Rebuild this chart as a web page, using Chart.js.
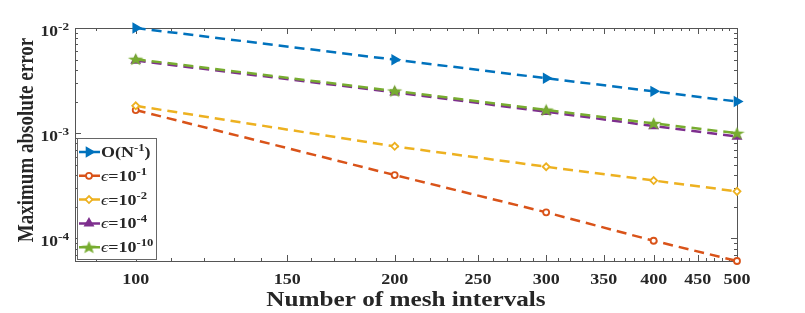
<!DOCTYPE html>
<html>
<head>
<meta charset="utf-8">
<script src="https://cdn.jsdelivr.net/npm/chart.js@4/dist/chart.umd.min.js"></script>
<style>
  html, body { margin: 0; padding: 0; background: #fff; }
  #wrap { width: 805px; height: 313px; }
</style>
</head>
<body>
<div id="wrap"><canvas id="errChart"></canvas></div>
<script>
const meshN = [100, 200, 300, 400, 500];
const refOrder = [1.0e-2, 5.0e-3, 3.33e-3, 2.5e-3, 2.0e-3];
const errEps1 = [1.66e-3, 4.0e-4, 1.77e-4, 9.5e-5, 6.1e-5];
const errEps2 = [1.82e-3, 7.5e-4, 4.8e-4, 3.55e-4, 2.8e-4];
const errEps4 = [4.9e-3, 2.45e-3, 1.6e-3, 1.17e-3, 9.3e-4];
const errEps10 = [5.05e-3, 2.52e-3, 1.66e-3, 1.24e-3, 1.0e-3];

const xTickLabels = [100, 150, 200, 250, 300, 350, 400, 450, 500];
const yTickValues = [1e-4, 1e-3, 1e-2];
const yTickExps = ["-4", "-3", "-2"];

const legendBase = ["O(N", "=10", "=10", "=10", "=10"];
const legendSup = ["-1", "-1", "-2", "-4", "-10"];

const SERIF = '"Liberation Serif", "Times New Roman", serif';
const TXT = "#262626";
const SX = 1.2; // the figure was exported a bit wider than tall, text looks stretched

// filled five point star for the last series
function makeStar(color) {
  const c = document.createElement("canvas");
  c.width = 17; c.height = 15;
  const g = c.getContext("2d");
  g.beginPath();
  for (let i = 0; i < 10; i++) {
    const r = i % 2 === 0 ? 6.8 : 2.8;
    const a = -Math.PI / 2 + i * Math.PI / 5;
    g.lineTo(8.5 + 1.2 * r * Math.cos(a), 8 + r * Math.sin(a));
  }
  g.closePath();
  g.fillStyle = color;
  g.fill();
  return c;
}
const starImg = makeStar("#77AC30");

const pts = (ys) => meshN.map((n, i) => ({ x: n, y: ys[i] }));

const series = [
  { label: "O(N^-1)", data: pts(refOrder), color: "#0072BD", style: "triangle", rot: 90, r: 4.8, fill: "#0072BD" },
  { label: "eps=1e-1", data: pts(errEps1), color: "#D95319", style: "circle", rot: 0, r: 3, fill: "#fff" },
  { label: "eps=1e-2", data: pts(errEps2), color: "#EDB120", style: "rectRot", rot: 0, r: 3.5, fill: "#fff" },
  { label: "eps=1e-4", data: pts(errEps4), color: "#7E2F8E", style: "triangle", rot: 0, r: 4.5, fill: "#7E2F8E" },
  { label: "eps=1e-10", data: pts(errEps10), color: "#77AC30", style: starImg, rot: 0, r: 7, fill: "#77AC30" },
];

// text pieces: [text, font, dy]; drawn with a horizontal stretch
function partsWidth(ctx, parts) {
  let w = 0;
  parts.forEach(([t, font]) => { ctx.font = font; w += ctx.measureText(t).width; });
  return w * SX;
}
function drawParts(ctx, x, y, parts, align) {
  const w = partsWidth(ctx, parts);
  let sx = align === "right" ? x - w : align === "center" ? x - w / 2 : x;
  ctx.save();
  ctx.translate(sx, y);
  ctx.scale(SX, 1);
  ctx.textAlign = "left";
  ctx.textBaseline = "alphabetic";
  let cx = 0;
  parts.forEach(([t, font, dy]) => {
    ctx.font = font;
    ctx.fillText(t, cx, dy);
    cx += ctx.measureText(t).width;
  });
  ctx.restore();
}

const framePlugin = {
  id: "frame",
  beforeDatasetsDraw(chart) {
    const { ctx, chartArea: a, scales: { x, y } } = chart;
    ctx.save();
    ctx.strokeStyle = "#555";
    ctx.lineWidth = 1;
    ctx.strokeRect(a.left + 0.5, a.top + 0.5, a.right - a.left, a.bottom - a.top);
    ctx.beginPath();
    for (let v = 90; v <= 500; v += 10) {
      if (v < x.min) continue;
      const len = xTickLabels.includes(v) ? 6 : 3;
      const px = Math.round(x.getPixelForValue(v)) + 0.5;
      ctx.moveTo(px, a.bottom); ctx.lineTo(px, a.bottom - len);
      ctx.moveTo(px, a.top); ctx.lineTo(px, a.top + len);
    }
    for (let e = -5; e <= -2; e++) {
      for (let m = 1; m <= 9; m++) {
        const v = m * Math.pow(10, e);
        if (v < y.min * 0.999 || v > y.max * 1.001) continue;
        const len = m === 1 ? 6 : 3;
        const py = Math.round(y.getPixelForValue(v)) + 0.5;
        ctx.moveTo(a.left, py); ctx.lineTo(a.left + len, py);
        ctx.moveTo(a.right, py); ctx.lineTo(a.right - len, py);
      }
    }
    ctx.stroke();
    ctx.restore();
  },
  afterDraw(chart) {
    const { ctx, chartArea: a, scales: { x, y } } = chart;
    ctx.save();
    ctx.fillStyle = TXT;

    // tick labels
    const tickFont = "bold 15px " + SERIF;
    xTickLabels.forEach((v) => {
      drawParts(ctx, x.getPixelForValue(v), 284, [[String(v), tickFont, 0]], "center");
    });
    const yFont = "bold 14.5px " + SERIF;
    const supFont = "bold 11px " + SERIF;
    yTickValues.forEach((v, i) => {
      const py = y.getPixelForValue(v);
      drawParts(ctx, 69, py + 8, [["10", yFont, 0], [yTickExps[i], supFont, -6]], "right");
    });

    // axis titles
    const titleFont = "bold 21px " + SERIF;
    drawParts(ctx, (a.left + a.right) / 2, 306, [["Number of mesh intervals", titleFont, 0]], "center");
    ctx.save();
    ctx.translate(33, 140);
    ctx.scale(SX, 1);
    ctx.rotate(-Math.PI / 2);
    ctx.font = "bold 19px " + SERIF;
    ctx.textAlign = "center";
    ctx.textBaseline = "alphabetic";
    ctx.fillText("Maximum absolute error", 0, 0);
    ctx.restore();

    // legend box in the lower left corner
    const lx = 77, ly = 138, lw = 79, lh = 121;
    ctx.fillStyle = "#fff";
    ctx.fillRect(lx, ly, lw, lh);
    ctx.strokeStyle = "#666";
    ctx.lineWidth = 1;
    ctx.strokeRect(lx + 0.5, ly + 0.5, lw, lh);
    const bFont = "bold 15px " + SERIF;
    const sFont = "bold 10.5px " + SERIF;
    const iFont = "italic 15px " + SERIF;
    series.forEach((s, i) => {
      const cy = ly + 14 + i * 23.8;
      ctx.save();
      ctx.strokeStyle = s.color;
      ctx.lineWidth = 2.5;
      ctx.setLineDash([8, 5]);
      ctx.beginPath();
      ctx.moveTo(lx + 2, cy); ctx.lineTo(lx + 24, cy);
      ctx.stroke();
      ctx.setLineDash([]);
      ctx.fillStyle = s.fill;
      ctx.lineWidth = 1.8;
      Chart.helpers.drawPoint(ctx, { pointStyle: s.style, rotation: s.rot, radius: s.r, borderWidth: 1.8 }, lx + 12, cy);
      ctx.restore();
      ctx.fillStyle = TXT;
      const parts = i === 0
        ? [[legendBase[i], bFont, 0], [legendSup[i], sFont, -6], [")", bFont, 0]]
        : [["\u03f5", iFont, 0], [legendBase[i], bFont, 0], [legendSup[i], sFont, -6]];
      drawParts(ctx, lx + 24, cy + 5, parts, "left");
    });
    ctx.restore();
  },
};

new Chart(document.getElementById("errChart"), {
  type: "line",
  data: {
    datasets: series.map((s, i) => ({
      label: s.label,
      data: s.data,
      borderColor: s.color,
      backgroundColor: s.fill,
      borderWidth: 2.5,
      borderDash: [10, 6],
      pointStyle: s.style,
      rotation: s.rot,
      pointRadius: s.r,
      pointBorderWidth: 1.8,
      pointBorderColor: s.color,
      pointBackgroundColor: s.fill,
      tension: 0,
      clip: false,
      order: series.length - i,
    })),
  },
  options: {
    responsive: true,
    maintainAspectRatio: false,
    animation: false,
    events: [],
    layout: { padding: { top: 28, right: 68, left: 0, bottom: 0 } },
    plugins: { legend: { display: false }, tooltip: { enabled: false } },
    scales: {
      x: {
        type: "logarithmic",
        min: 85,
        max: 500,
        grid: { display: false, drawTicks: false },
        border: { display: false },
        afterBuildTicks: (scale) => { scale.ticks = xTickLabels.map((v) => ({ value: v })); },
        afterFit: (scale) => { scale.height = 52; },
        ticks: { display: false },
        title: { display: false },
      },
      y: {
        type: "logarithmic",
        min: 6.1e-5,
        max: 1e-2,
        grid: { display: false, drawTicks: false },
        border: { display: false },
        afterBuildTicks: (scale) => { scale.ticks = yTickValues.map((v) => ({ value: v })); },
        afterFit: (scale) => { scale.width = 75; },
        ticks: { display: false },
        title: { display: false },
      },
    },
  },
  plugins: [framePlugin],
});
</script>
</body>
</html>
